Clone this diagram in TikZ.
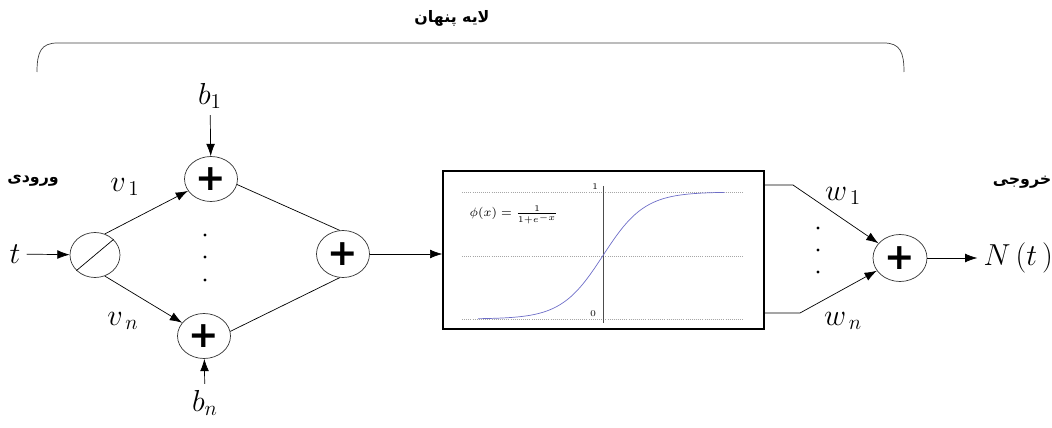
\documentclass[tikz,border=0pt]{standalone}
\usepackage{fontspec}
\usepackage{tikz}
\usetikzlibrary{shapes.geometric, positioning, arrows.meta, calc}
\TeXXeTstate=1
\newfontfamily\farsifont[Script=Arabic]{DejaVu Sans}
\newfontfamily\plusfont{DejaVu Sans}
\definecolor{SigBlue}{RGB}{110,110,200}

\begin{document}
\begin{tikzpicture}[
          sumnode/.style={ellipse, draw=black!80, thin, minimum width=1.06cm,
                      minimum height=0.9cm, inner sep=0pt,
                      font=\plusfont\bfseries\huge},
          fa/.style={font=\farsifont\small\bfseries},
          lbl/.style={font=\LARGE},
          arr/.style={-{Latex[length=7pt, width=5pt]}, thin},
          dotline/.style={black!35, densely dotted, very thin}
        ]
        \useasboundingbox (0,0) rectangle (21.04,8.54);

        % hidden layer brace
        \node[fa] (hidden) at (9.04, 8.18) {\beginR لایه پنهان\endR};
        \coordinate (brl) at (0.74, 7.10);
        \coordinate (brr) at (18.08, 7.10);
        \draw[black!75] (brl) .. controls (0.74, 7.50) and (0.82, 7.68) .. (1.15, 7.68)
                        -- (17.68, 7.68) .. controls (18.0, 7.68) and (18.08, 7.50) .. (brr);

        % input
        \node[fa] (inlbl) at (0.66, 4.92) {\beginR ورودی\endR};
        \node[lbl] (t) at (0.3, 3.46) {$t$};
        \node[ellipse, draw=black!80, thin, minimum width=1.0cm,
              minimum height=0.9cm] (div) at (1.9, 3.44) {};
        \draw[thin] (div.220) -- (div.40);
        \draw[arr] (t) -- (div);

        % first layer of sums
        \node[sumnode] (s1) at (4.22, 4.96) {+};
        \node[sumnode] (sn) at (4.08, 1.82) {+};
        \node[lbl] (b1) at (4.2, 6.62) {$b_1$};
        \node[lbl] (bn) at (4.1, 0.48) {$b_n$};
        \draw[arr] (b1) -- (s1);
        \draw[arr] (bn) -- (sn);
        \draw[arr] (div.65) -- (s1);
        \draw[arr] (div.-65) -- (sn);
        \node[lbl] (v1) at (2.5, 4.80) {$v_{\,1}$};
        \node[lbl] (vn) at (2.46, 2.12) {$v_{\,n}$};
        \foreach \y in {3.84, 3.40, 2.94} {
          \fill (4.1, \y) circle (0.9pt);
        }

        % middle sum
        \node[sumnode, minimum height=0.94cm] (sm) at (6.86, 3.46) {+};
        \draw (s1.-12) -- (sm.98);
        \draw (sn.10) -- (sm.-98);

        % activation box with sigmoid
        \node[draw, thick, minimum width=6.42cm, minimum height=3.16cm] (box) at (12.07, 3.54) {};
        \draw[arr] (sm) -- (box.west |- sm);
        \foreach \y in {4.70, 3.42, 2.16} {
          \draw[dotline] (9.24, \y) -- (14.86, \y);
        }
        \draw[black!70] (12.06, 4.82) -- (12.06, 2.08);
        \draw[SigBlue, thin] plot[domain=9.56:14.5, samples=70, smooth]
              (\x, {2.16 + 2.54/(1 + exp(-2.4*(\x - 12.06)))});
        \node[font=\tiny] (one) at (11.9, 4.80) {1};
        \node[font=\tiny] (zero) at (11.86, 2.26) {0};
        \node[font=\scriptsize] (phi) at (10.28, 4.24) {$\phi(x)=\frac{1}{1+e^{-x}}$};

        % output weights and sum
        \node[sumnode, minimum width=1.08cm, minimum height=0.94cm] (so) at (18.0, 3.38) {+};
        \coordinate (wa) at (15.86, 4.84);
        \coordinate (wb) at (16.0, 2.28);
        \draw[arr] (box.east |- wa) -- (wa) -- (so);
        \draw[arr] (box.east |- wb) -- (wb) -- (so);
        \node[lbl] (w1) at (16.86, 4.62) {$w_{\,1}$};
        \node[lbl] (wn) at (16.86, 2.12) {$w_{\,n}$};
        \foreach \y in {3.98, 3.54, 3.10} {
          \fill (16.36, \y) circle (0.9pt);
        }

        % output
        \node[lbl, right=1.0cm of so] (nt) {$N\,(t\,)$};
        \draw[arr] (so) -- (nt);
        \node[fa] (outlbl) at (20.44, 4.90) {\beginR خروجی\endR};
      \end{tikzpicture}
\end{document}
